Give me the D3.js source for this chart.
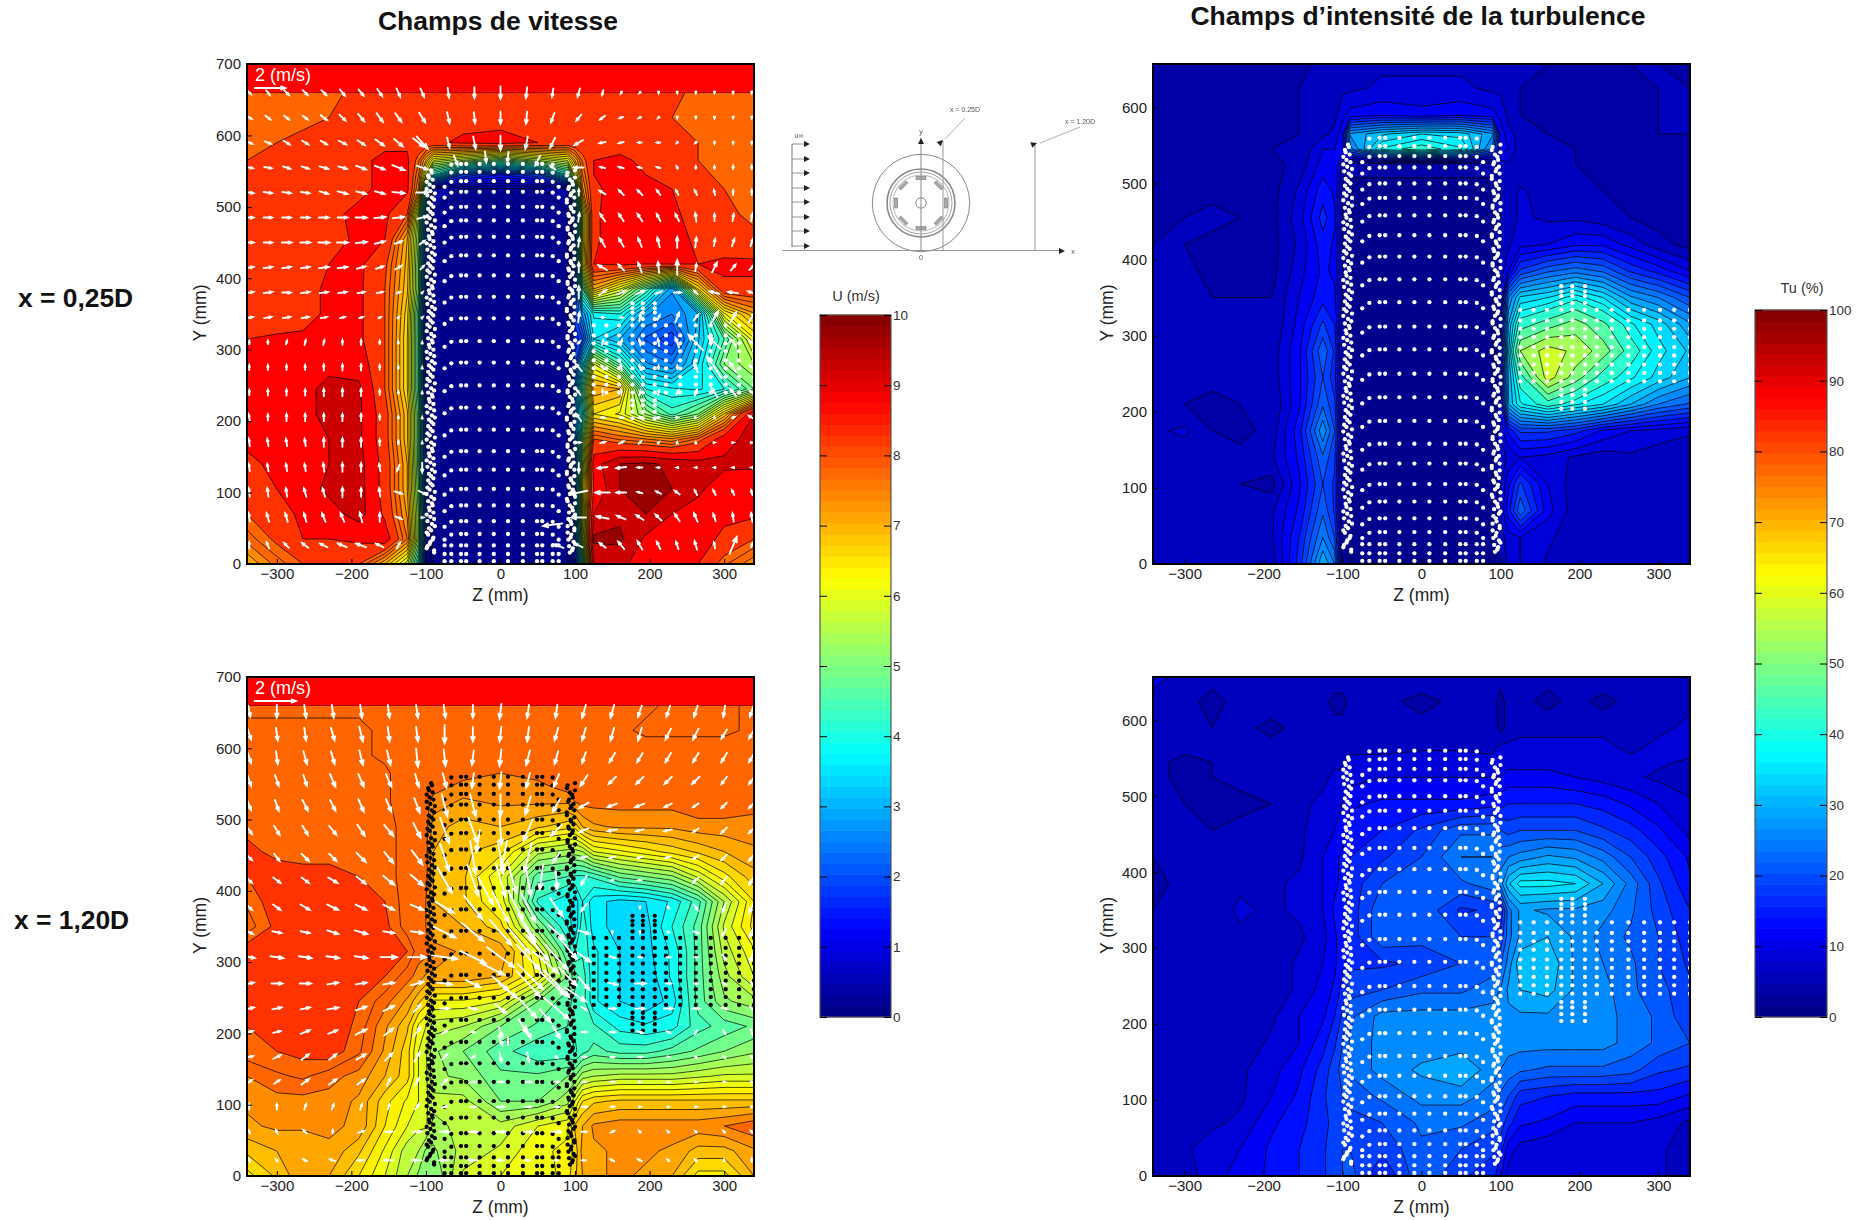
<!DOCTYPE html>
<html><head><meta charset="utf-8">
<script src="https://cdnjs.cloudflare.com/ajax/libs/d3/7.8.5/d3.min.js"></script>
<style>html,body{margin:0;background:#fff}svg{display:block;font-family:"Liberation Sans",Arial,sans-serif}</style>
</head><body><svg id="c" width="1863" height="1220"></svg>
<script>
// ---------- contour measurement grid (mm) ----------
const zGrid=[-340,-300,-265,-230,-190,-155,-125,-110,-100,-90,-50,0,50,90,100,110,125,160,195,230,265,300,340];
const yGrid=[660,625,590,565,545,525,490,455,420,385,350,315,280,245,210,175,140,105,70,35,0];
// U field at x=0.25D, tenths of m/s
const uNear=[
[78,78,78,79,81,82,82,82,81,81,82,82,81,82,82,82,82,82,82,81,79,78,78],
[78,78,78,80,82,83,83,83,83,83,83,83,83,83,83,83,83,83,82,80,78,78,78],
[78,80,82,83,84,84,84,84,84,84,86,87,85,84,84,84,84,83,83,82,80,78,78],
[80,81,82,83,84,86,86,78,70,60,55,48,55,60,70,78,85,86,84,83,80,78,78],
[81,82,83,84,84,86,86,75,60,40,20,15,20,40,60,75,85,87,85,83,81,79,78],
[81,82,83,84,84,86,86,72,40,5,2,2,2,5,40,72,84,87,86,85,82,80,79],
[81,82,82,84,86,86,80,55,25,2,1,1,1,2,25,60,84,88,87,86,83,81,79],
[81,81,82,83,86,85,70,52,22,2,1,1,1,2,25,60,84,88,88,87,84,82,81],
[81,82,83,85,86,81,69,50,20,2,1,1,1,2,25,62,85,86,85,85,85,86,86],
[81,82,83,86,86,80,68,50,18,2,1,1,1,2,20,45,70,60,45,28,65,84,84],
[80,81,83,86,86,80,66,45,15,2,1,1,1,2,20,28,38,40,28,25,30,62,72],
[85,86,86,87,86,80,65,45,15,2,1,1,1,2,15,20,35,30,22,18,32,45,62],
[86,87,87,89,88,80,65,45,15,2,1,1,1,2,20,35,60,45,28,25,35,50,55],
[86,87,89,91,91,80,65,45,15,2,1,1,1,2,25,45,72,70,40,38,37,40,50],
[87,87,89,91,91,82,68,48,18,2,1,1,1,2,25,40,65,62,52,44,50,68,90],
[86,87,89,90,91,82,68,48,18,2,1,1,1,2,25,50,80,77,75,73,78,88,92],
[84,86,89,90,92,83,70,48,18,2,1,1,1,2,25,55,88,95,96,94,92,91,91],
[82,85,88,91,92,83,70,50,18,2,1,1,1,2,25,60,85,95,96,95,91,87,86],
[80,83,86,88,92,84,72,52,20,2,1,1,1,2,25,60,90,94,95,90,88,86,86],
[76,81,85,85,86,88,75,52,18,2,1,1,1,2,22,55,96,96,89,87,87,84,80],
[70,76,80,83,80,70,58,40,15,2,1,1,1,2,15,40,90,92,86,85,85,78,73]];
// U field at x=1.20D, tenths of m/s
const uFar=[
[77,77,77,77,77,77,77,77,77,77,77,77,77,77,77,77,77,77,77,78,78,78,77],
[78,78,78,78,78,77,77,77,77,77,77,77,77,77,77,77,77,77,78,78,78,78,77],
[78,79,79,79,78,77,76,76,76,76,76,76,76,76,76,76,76,76,76,76,76,76,76],
[78,79,79,79,79,78,76,76,76,76,76,75,76,76,76,76,76,76,76,76,76,76,76],
[78,79,79,79,79,78,76,76,76,76,74,74,74,76,76,76,76,76,76,76,76,76,76],
[78,79,79,79,79,78,76,76,76,74,72,73,73,73,75,76,76,76,76,76,77,77,76],
[79,79,79,79,79,79,76,76,76,71,69,70,68,66,66,70,72,73,73,73,74,74,74],
[81,79,79,79,79,79,76,76,76,70,68,66,56,54,54,55,60,62,64,66,68,70,72],
[80,82,81,81,80,79,76,76,76,70,68,60,46,45,42,42,43,48,50,52,58,64,69],
[78,82,83,83,83,80,76,75,75,70,68,62,42,38,36,40,36,34,35,38,44,55,65],
[76,81,83,83,83,81,76,75,75,70,70,66,50,40,35,42,36,34,34,40,46,58,66],
[82,82,83,83,83,83,80,76,76,74,72,72,60,45,40,42,38,35,34,38,46,56,62],
[82,82,83,83,82,80,76,74,72,72,72,70,62,50,46,44,38,35,33,38,46,54,60],
[82,83,83,83,80,76,72,68,66,62,62,60,50,46,44,44,38,35,33,36,46,52,54],
[80,82,83,83,79,73,68,62,60,56,55,50,47,45,43,45,43,39,38,39,44,46,48],
[79,80,81,82,78,72,66,60,58,53,50,46,43,43,42,44,46,44,44,46,48,50,52],
[75,77,78,76,74,70,66,60,58,53,52,48,48,50,50,54,55,56,56,56,57,58,58],
[73,74,74,74,72,66,62,60,58,56,56,50,50,54,60,65,67,68,68,68,68,68,68],
[72,73,73,73,72,65,60,58,58,54,56,56,60,62,68,70,73,74,74,74,74,75,77],
[68,70,70,72,68,62,56,55,52,52,56,58,62,63,66,71,72,73,73,72,69,69,72],
[64,68,72,70,65,60,55,52,50,50,58,60,60,64,67,70,72,73,72,70,64,64,70]];
// Tu field at x=0.25D, %
const tuNear=[
[5,4,4,5,5,4,6,7,7,7,7,7,7,7,7,7,5,5,4,4,5,5,4],
[4,4,4,4,4,5,6,7,7,7,8,8,8,7,7,6,5,4,4,4,4,5,5],
[3,4,5,4,4,5,6,7,9,11,12,11,12,11,9,7,5,4,4,3,4,5,5],
[4,4,4,5,4,5,7,8,12,28,32,35,34,28,12,8,7,5,4,4,4,5,5],
[4,4,4,4,5,5,10,10,12,24,38,42,38,24,12,10,6,5,5,4,5,4,4],
[4,4,4,4,4,6,11,12,6,3,3,3,3,3,6,7,5,5,5,4,4,4,4],
[4,4,4,4,4,8,14,12,5,2,2,2,2,2,5,6,8,6,5,5,4,4,4],
[4,5,6,5,4,9,16,13,5,2,2,2,2,2,5,6,8,7,7,6,5,4,4],
[5,5,4,4,4,8,14,12,5,2,2,2,2,2,5,7,9,10,12,12,9,6,4],
[5,6,4,4,4,9,13,12,5,2,2,2,2,2,6,10,18,22,24,22,17,14,10],
[5,6,5,5,5,10,14,13,5,2,2,2,2,2,8,25,33,35,39,35,28,25,20],
[6,5,6,7,5,11,18,15,6,2,2,2,2,2,12,30,42,46,50,45,38,34,28],
[6,5,5,6,6,12,22,17,6,2,2,2,2,2,14,32,52,58,55,50,42,36,32],
[6,5,6,6,6,12,20,16,6,2,2,2,2,2,13,30,42,58,50,42,38,34,30],
[6,5,4,5,5,12,22,18,6,2,2,2,2,2,12,30,37,42,38,35,30,25,22],
[7,8,5,4,6,14,27,20,7,2,2,2,2,2,8,13,18,18,16,12,10,9,8],
[6,6,6,6,7,13,22,18,6,2,2,2,2,2,6,8,10,9,7,6,7,6,5],
[6,5,5,5,4,12,20,17,6,2,2,2,2,2,7,12,18,10,6,5,6,6,6],
[5,7,5,6,7,13,22,17,6,2,2,2,2,2,8,14,22,11,6,5,6,6,6],
[6,5,6,5,7,15,25,20,7,2,2,2,2,2,6,9,10,8,6,7,7,6,6],
[6,6,6,6,6,16,30,25,8,2,2,2,2,2,5,8,10,7,6,6,6,5,6]];
// Tu field at x=1.20D, %
const tuFar=[
[8,7,6,6,6,6,7,7,7,6,5,7,7,7,6,7,7,6,7,7,7,7,7],
[7,6,4,6,7,7,6,4,4,6,6,4,6,6,4,6,6,4,6,4,6,7,7],
[7,6,5,6,4,6,7,6,6,5,6,6,7,7,4,6,7,7,7,7,7,7,8],
[6,6,6,6,6,6,7,7,7,7,7,7,7,7,8,8,8,8,8,8,7,8,9],
[6,4,5,6,6,6,7,7,7,8,8,9,9,8,9,9,9,9,9,9,8,8,7],
[6,4,5,6,6,7,7,8,8,9,10,10,10,10,10,11,11,11,10,9,8,7,6],
[5,5,4,4,5,7,8,9,10,12,13,13,13,14,14,15,15,15,15,14,12,10,8],
[5,5,5,6,5,7,9,10,11,14,15,18,22,22,20,19,20,20,20,18,16,13,9],
[5,5,6,6,6,7,10,12,13,15,17,20,25,25,24,25,26,28,27,24,20,16,12],
[4,6,6,7,7,8,10,12,13,16,20,21,22,24,26,32,36,36,35,30,24,18,13],
[5,6,6,8,7,8,10,13,14,16,22,22,17,18,15,24,28,27,27,26,23,19,15],
[5,6,6,7,6,7,9,12,14,16,22,21,20,20,18,24,28,30,27,24,22,20,16],
[6,6,5,6,6,8,10,12,14,17,17,18,20,21,22,26,32,32,27,25,23,20,17],
[6,6,5,6,6,8,11,13,16,19,20,22,22,24,25,28,30,31,27,26,23,21,18],
[6,7,6,6,7,10,12,15,18,22,26,26,26,26,26,27,27,27,26,26,24,22,18],
[5,6,6,6,8,10,14,17,20,23,26,26,26,26,26,26,26,26,26,26,24,22,20],
[5,5,6,7,9,12,16,19,21,23,26,28,30,26,25,24,23,22,22,22,21,18,17],
[5,5,6,7,10,13,17,19,20,21,23,26,26,24,22,20,16,15,14,14,14,14,12],
[6,6,7,8,12,14,17,18,18,19,20,23,23,21,19,16,13,12,10,10,10,9,7],
[6,7,9,10,13,15,17,19,20,20,18,22,20,18,16,11,9,8,8,8,8,8,6],
[5,6,9,11,13,15,17,19,20,21,15,22,18,16,13,9,9,10,8,8,8,8,6]];
// contour levels
const uLevels=[0,2.5,5,7.5,10,12.5,15,17.5,20,22.5,25,27.5,30,32.5,35,37.5,40,42.5,45,47.5,50,52.5,55,57.5,60,62.5,65,67.5,70,72.5,75,77.5,80,85,90,95,100];
const tuLevels=[0,2.5,5,7.5,10,12.5,15,17.5,20,22.5,25,27.5,30,32.5,35,37.5,40,44,48,52,56,60,64,68,72,100];

// ---------- velocity arrows at x=0.25D (tenths of m/s) ----------
const arrowZNear=[-337,-312,-287,-262,-237,-212,-187,-162,-137,-105,-70,-35,0,35,70,105,137,162,187,212,237,262,287,312,337];
const arrowYNear=[660,625,590,555,520,485,450,415,380,345,310,275,240,205,170,135,100,65,26];
const wNear=[
[3,3,4,4,4,4,4,4,3,3,1,0,0,-1,-1,-2,-1,-1,-1,0,0,0,0,0,0],
[4,4,4,4,5,5,5,5,5,5,2,1,0,-1,-3,-4,-4,-3,-2,-1,0,0,0,0,0],
[5,5,5,5,5,6,6,7,7,9,2,2,0,-2,-4,-7,-5,-4,-3,-3,-1,-1,0,0,0],
[6,6,6,6,7,7,8,8,10,9,0,0,0,0,-4,-8,-4,-4,-3,-3,-1,0,0,0,0],
[7,7,7,7,7,8,8,8,10,10,0,0,0,0,0,0,-5,-4,-4,-3,-2,-2,-1,0,0],
[7,7,7,7,8,8,9,9,9,8,0,0,0,0,0,1,-4,-4,-4,-3,-3,-1,0,1,1],
[7,7,8,8,9,9,9,8,6,4,0,0,0,0,0,1,-4,-4,-3,-2,0,1,1,2,2],
[7,7,7,7,8,8,7,6,5,3,0,0,0,0,0,0,-7,-5,-3,-1,0,1,4,4,4],
[7,7,7,7,7,7,6,5,3,1,0,0,0,0,0,0,6,7,7,5,6,-3,-8,-8,-6],
[6,6,6,6,5,4,3,2,1,1,0,0,0,0,0,1,2,2,1,2,3,4,6,5,5],
[0,0,1,1,1,0,0,0,0,0,0,0,0,0,0,2,1,1,-1,-1,-3,-12,-10,-5,-4],
[0,0,0,0,0,0,0,0,0,0,0,0,0,0,0,-5,-2,-1,-1,0,0,-3,-12,-5,-4],
[0,0,0,0,0,0,0,0,0,0,0,0,0,0,0,-3,0,0,1,1,2,2,-5,-5,-3],
[-1,0,0,0,0,0,0,0,0,0,0,0,0,0,0,-4,3,3,3,2,1,1,0,2,-5],
[-1,-1,-1,-1,0,0,0,0,0,0,0,0,0,0,0,3,4,4,2,1,0,0,1,1,1],
[-1,-1,-1,-1,-1,0,0,-1,-2,0,0,0,0,0,0,0,-8,-8,-4,-2,-1,-1,-1,-1,-1],
[-1,-1,-1,-2,-2,0,0,-1,6,6,0,0,0,0,0,-14,-12,-8,-4,-4,-4,-2,-2,-2,-1],
[-1,-2,-2,-2,-3,-3,-2,0,5,2,0,0,0,0,0,-12,-10,-7,-6,-5,-4,-3,-2,-1,-1],
[0,-2,-4,-5,-6,-7,-8,-6,3,0,0,0,0,0,0,-6,-5,-5,-4,-3,-2,-2,-1,6,1]];
const vNear=[
[-3,-4,-4,-4,-4,-5,-5,-6,-7,-7,-8,-9,-10,-9,-7,-7,-4,-2,-1,-1,-1,-1,-1,-1,-1],
[-2,-3,-3,-3,-4,-5,-6,-7,-7,-8,-9,-9,-10,-10,-8,-5,-3,-1,-1,-1,-1,-1,-1,-1,-1],
[-2,-2,-3,-3,-3,-3,-4,-5,-6,-10,-8,-10,-12,-10,-8,-4,-1,-1,0,0,-1,-1,-2,-2,-2],
[-1,-1,-2,-2,-2,-2,-3,-3,-4,-3,0,0,0,0,3,0,1,1,1,1,2,2,2,3,3],
[-1,-1,-1,-1,-2,-2,-2,-2,-1,0,0,0,0,0,0,5,3,4,4,4,4,4,4,4,4],
[0,0,0,0,0,0,0,1,1,2,0,0,0,0,0,7,6,6,6,6,6,7,6,6,6],
[0,0,0,0,0,0,1,2,2,3,0,0,0,0,0,7,7,7,7,8,9,8,6,6,6],
[1,1,1,1,1,1,2,2,3,3,0,0,0,0,0,8,4,5,8,9,12,6,8,5,4],
[1,1,0,1,1,1,1,1,1,1,0,0,0,0,0,10,4,3,3,2,0,3,2,1,2],
[1,1,1,1,1,1,1,1,1,1,0,0,0,0,0,8,0,0,6,4,8,5,10,9,8],
[3,3,3,4,4,4,4,3,2,1,0,0,0,0,0,2,4,5,5,6,8,13,10,6,3],
[4,4,4,4,5,5,5,4,2,1,0,0,0,0,0,6,3,5,4,3,3,8,18,8,4],
[4,5,5,5,6,6,6,4,2,1,0,0,0,0,0,4,4,4,4,4,4,5,8,6,3],
[5,5,6,6,6,6,6,4,2,1,0,0,0,0,0,6,0,0,0,0,0,0,1,1,3],
[6,6,6,6,7,7,7,5,3,1,0,0,0,0,0,0,1,2,2,1,1,1,0,0,0],
[6,6,6,6,7,7,7,6,-5,-8,0,0,0,0,0,-8,-1,-1,0,0,0,0,0,0,0],
[7,7,7,7,7,8,7,7,-2,-3,0,0,0,0,0,-3,0,0,1,2,3,4,4,4,4],
[7,7,7,7,7,7,8,7,-2,0,0,0,0,0,0,0,2,3,4,5,6,7,6,7,7],
[5,5,4,4,3,3,3,3,5,0,0,0,0,0,0,3,4,6,7,6,6,7,5,14,3]];
const extraNear=[[70,55,-16,-2],[78,25,-8,3],[-110,590,9,-7],[-60,565,3,-8],[-20,570,1,-9],[10,570,-1,-8],[50,565,-4,-8]];

// ---------- velocity arrows at x=1.20D (tenths of m/s) ----------
const arrowZFar=[-337,-300,-262,-225,-187,-150,-112,-75,-37,0,37,75,112,150,187,225,262,300,337];
const arrowYFar=[652,620,587,555,520,485,447,415,377,342,307,270,235,202,167,132,97,62,22];
const wFar=[
[1,0,1,1,1,1,1,1,0,-1,-1,-1,-2,-2,-2,-2,-2,-1,-2],
[2,1,1,2,2,1,1,0,0,-1,-1,-2,-2,-2,-2,-3,-3,-3,-3],
[2,1,2,2,2,2,1,1,-1,-1,-2,-2,-2,-3,-3,-3,-3,-3,-3],
[2,2,2,3,3,3,2,2,-1,-1,-2,-3,-4,-4,-4,-4,-4,-3,-3],
[2,2,3,3,3,3,3,3,3,0,-3,-4,-5,-5,-5,-4,-3,-3,-3],
[3,3,3,4,4,5,4,5,5,1,-5,-6,-5,-5,-4,-4,-3,-3,-3],
[3,3,4,4,5,5,6,5,3,3,-4,-4,-4,-3,-3,-3,-3,-3,-3],
[3,4,4,5,5,6,7,8,6,5,3,1,-3,-1,-2,0,-3,-3,-3],
[3,4,5,6,6,6,7,10,10,9,8,7,-3,0,0,1,2,-2,-3],
[4,5,5,6,7,6,7,12,12,12,8,9,6,0,0,1,3,-2,-2],
[6,7,7,7,7,9,10,14,14,15,13,12,7,3,2,2,2,2,-2],
[5,6,6,6,6,6,7,8,8,9,13,14,6,5,6,3,2,2,1],
[5,5,5,6,6,6,4,5,5,6,9,14,3,4,5,5,4,3,2],
[4,4,5,5,6,5,4,3,2,2,3,4,3,3,3,2,-1,1,1],
[4,4,4,4,5,4,3,3,2,1,1,1,2,2,2,1,1,1,1],
[3,3,4,4,4,2,2,3,3,3,3,3,2,2,1,1,1,1,1],
[0,0,1,1,1,1,2,3,3,4,3,3,3,2,1,1,1,1,1],
[-1,-1,-2,0,3,4,5,5,5,5,5,5,3,2,-1,-1,-1,-1,-1],
[-1,-1,-2,-3,-4,-5,-5,-5,-5,-4,-3,-2,-2,-2,-2,-1,-1,0,0]];
const vFar=[
[-6,-7,-7,-7,-7,-7,-7,-7,-7,-8,-7,-7,-7,-7,-6,-6,-6,-6,-6],
[-6,-7,-7,-7,-8,-8,-8,-10,-8,-8,-8,-7,-7,-7,-7,-6,-6,-5,-5],
[-6,-7,-7,-7,-8,-8,-10,-9,-8,-9,-8,-7,-6,-5,-5,-5,-5,-5,-5],
[-6,-6,-6,-7,-7,-7,-7,-8,-8,-9,-8,-7,-6,-4,-4,-4,-4,-4,-4],
[-5,-6,-6,-6,-7,-7,-8,-12,-12,-12,-10,-7,-3,-2,-2,-2,-2,-3,-3],
[-4,-5,-5,-5,-6,-6,-8,-14,-14,-16,-12,-6,-2,-1,-1,-1,-2,-3,-3],
[-3,-4,-4,-4,-5,-6,-8,-15,-18,-18,-16,-6,-1,-1,-1,-1,-2,-3,-4],
[-3,-3,-3,-3,-4,-5,-6,-14,-17,-18,-17,-10,-5,0,0,0,-3,-4,-5],
[-3,-3,-3,-3,-3,-3,-3,-6,-13,-17,-16,-10,-4,0,-1,-1,-3,-5,-6],
[-2,-1,-1,-2,-2,-1,-1,-6,-10,-14,-14,-8,-2,-1,-1,0,-1,-4,-5],
[-1,-1,-1,-1,-1,0,0,-2,-7,-11,-14,-14,-5,-1,0,0,0,-3,-5],
[1,0,0,1,1,1,2,-1,-4,-8,-14,-15,-7,-1,0,0,0,-1,-2],
[1,1,1,1,2,3,4,0,-1,-5,-10,-12,-2,0,0,0,0,-1,-2],
[1,1,2,2,3,4,5,2,0,-6,-7,-7,0,0,-1,-1,-2,-2,-3],
[1,2,3,3,3,4,5,3,1,-5,-5,-1,0,0,0,0,-1,-1,-1],
[2,2,3,3,3,4,4,3,0,0,0,0,0,0,0,0,0,0,0],
[3,3,3,3,3,3,3,1,0,0,0,0,0,0,0,0,0,0,0],
[2,2,2,2,1,0,0,0,0,0,0,0,0,1,1,1,1,1,1],
[2,1,1,1,0,0,0,0,0,0,0,0,0,1,1,1,1,1,2]];
const extraFar=[[-20,400,8,-15],[15,420,5,-18],[20,380,8,-16],[35,350,9,-14],[50,320,12,-14],[60,300,14,-12],[40,280,14,-14],[10,260,10,-8],[-10,290,12,-6],[70,270,14,-13],[25,330,12,-14],[5,450,-3,-16],[-30,470,-2,-12],[55,420,-2,-14],[90,320,10,-12],[90,280,10,-10],[100,255,12,-8],[60,225,6,-7],[30,210,5,-8],[0,190,2,-5],[10,190,0,-4]];

// ---------- measurement points ----------
const bodyZ=[-75,-66,-53,-46,-28,-9,10,30,49,56,70,78];
const bodyDrop=[8,1,0,0,0,0,0,0,0,0,1,8];
const bodyY=[560,549,536,521,500,481,458,432,404,374,344,312,282,250,219,188,158,132,105,82,60,42,26,14,4];
const edgeY=[548,541,535,528,522,516,510,503,497,490,484,478,471,465,459,452,446,440,433,427,421,414,408,402,395,389,383,376,370,364,357,351,345,338,332,326,319,313,307,300,294,288,281,275,269,262,256,250,243,237,231,224,218,212,205,199,193,186,180,174,167,161,155,148,142,136,129,123,117,110,104,98,91,85,79,72,66,60,53,47,41,34,28,22,16];
const edgeZ=[92,96,99,90,94,98,89,93,97,91,95,99,88,92,96,90,94,98,88,93,97,91,95,99,89,92,96,90,94,98,88,93,97,91,95,99,89,92,96,90,94,98,88,93,97,91,95,99,89,92,96,90,94,98,88,93,97,91,95,99,89,92,96,90,94,98,88,93,97,91,95,99,89,92,96,90,94,98,88,93,97,91,95,99,89];
const wakeZ=[125,142,159,177,191,207,222,241,262,282,302,320,340];
const wakeY=[334,320,309,298,285,274,262,251,240];
const wakeTallZ=[177,191,207];
const wakeTallY=[365,358,352,343,229,222,213,204];

// ---------- labels ----------
const zTicks=[-300,-200,-100,0,100,200,300];
const yTicksU=[0,100,200,300,400,500,600,700];
const yTicksTu=[0,100,200,300,400,500,600];
const cbTicksU=[0,1,2,3,4,5,6,7,8,9,10];
const cbTicksTu=[0,10,20,30,40,50,60,70,80,90,100];
const titles=[["Champs de vitesse",498,30],["Champs d\u2019intensit\u00e9 de la turbulence",1418,25]];
const rowLabels=[["x = 0,25D",18,307],["x = 1,20D",14,929]];
const profileY=[144,159,173,188,202,217,231,246];

// ---------- drawing ----------
const svg=d3.select("#c");
const cl=v=>Math.max(0,Math.min(1,v));
const jet=t=>d3.rgb(255*cl(1.5-Math.abs(4*t-3)),255*cl(1.5-Math.abs(4*t-2)),255*cl(1.5-Math.abs(4*t-1))).formatHex();
const defs=svg.append("defs");
defs.append("filter").attr("id","soft").append("feGaussianBlur").attr("stdDeviation",.45);
let uid=0;

function panel(o){
  const id="clip"+(uid++);
  const {x0,x1,y0,y1,yMax}=o;
  const zs=d3.scaleLinear().domain([-340,340]).range([x0,x1]);
  const ys=d3.scaleLinear().domain([0,yMax]).range([y1,y0]);
  defs.append("clipPath").attr("id",id).append("rect").attr("x",x0).attr("y",y0).attr("width",x1-x0).attr("height",y1-y0);
  const g=svg.append("g");
  const plot=g.append("g").attr("clip-path",`url(#${id})`);
  const rows=o.field.slice().reverse();
  const yAsc=yGrid.slice().reverse();
  const nx=zGrid.length,ny=yAsc.length;
  const ix=d3.scaleLinear().domain(zGrid.map((_,i)=>i+.5)).range(zGrid).clamp(true);
  const iy=d3.scaleLinear().domain(yAsc.map((_,i)=>i+.5)).range(yAsc.map(v=>v===660&&!o.band?yMax:v)).clamp(true);
  const cont=d3.contours().size([nx,ny]).thresholds(o.levels)(rows.flat());
  const ring=r=>"M"+r.map(p=>[zs(ix(p[0])).toFixed(1),ys(iy(p[1])).toFixed(1)].join(",")).join("L")+"Z";
  cont.forEach((c,i)=>{
    const d=c.coordinates.map(poly=>poly.map(ring).join("")).join("");
    if(!d)return;
    plot.append("path").attr("d",d).attr("fill",o.color(o.levels[i],o.levels[i+1]===undefined?100:o.levels[i+1]))
      .attr("fill-rule","evenodd").attr("stroke","#000").attr("stroke-width",.7).attr("stroke-linejoin","round");
  });
  if(o.band){
    plot.append("rect").attr("x",x0).attr("width",x1-x0).attr("y",ys(yMax)).attr("height",ys(660)-ys(yMax)).attr("fill","#ff0000");
  }
  const pts=[];
  bodyY.forEach(y=>bodyZ.forEach((z,i)=>{ if(!(y>=549&&Math.abs(z)>=75)) pts.push([z,y-(y>30?bodyDrop[i]:0)]); }));
  edgeY.forEach((y,i)=>{
    const n=edgeZ.length;
    pts.push([-edgeZ[i],y]);pts.push([edgeZ[n-1-i]+1,y]);
    pts.push([-edgeZ[(i+7)%n],y+3]);pts.push([edgeZ[(i+11)%n]+1,y+3]);
  });
  wakeZ.forEach(z=>wakeY.forEach(y=>pts.push([z,y])));
  wakeTallZ.forEach(z=>wakeTallY.forEach(y=>pts.push([z,y])));
  plot.append("g").selectAll("circle").data(pts).join("circle")
    .attr("cx",d=>zs(d[0])).attr("cy",d=>ys(d[1])).attr("r",2.15).attr("fill",o.dot);
  if(o.w){
    const list=[];
    o.ay.forEach((y,j)=>o.az.forEach((z,i)=>{
      if(o.w[j][i]||o.v[j][i]) list.push([z,y,o.w[j][i],o.v[j][i]]);
    }));
    o.extra.forEach(e=>list.push(e));
    const arrow=(x,y,dx,dy)=>{
      const p=d3.path(),L=Math.hypot(dx,dy)||1,ux=dx/L,uy=dy/L,h=Math.min(5,Math.max(1.6,L*.3)),w=h*.4;
      const tx=x+dx,ty=y+dy;
      p.moveTo(x,y);p.lineTo(tx,ty);
      p.moveTo(tx-ux*h-uy*w,ty-uy*h+ux*w);p.lineTo(tx,ty);p.lineTo(tx-ux*h+uy*w,ty-uy*h-ux*w);
      return p.toString();
    };
    plot.append("path").attr("fill","none").attr("stroke","#fff").attr("stroke-width",1.9).attr("stroke-linecap","round")
      .attr("d",list.map(a=>{
        const dx=a[2]/10*o.scale,dy=-a[3]/10*o.scale;
        return arrow(zs(a[0])-dx/2,ys(a[1])-dy/2,dx,dy);
      }).join(""));
    plot.append("text").attr("x",x0+8).attr("y",y0+17).attr("fill","#fff").attr("font-size",18).text("2 (m/s)");
    plot.append("path").attr("fill","none").attr("stroke","#fff").attr("stroke-width",1.8)
      .attr("d",arrow(x0+7,y0+24,2*o.legend,0));
  }
  g.append("rect").attr("x",x0).attr("y",y0).attr("width",x1-x0).attr("height",y1-y0).attr("fill","none").attr("stroke","#000").attr("stroke-width",2);
  const ax=g.append("g").attr("transform",`translate(0,${y1})`).call(d3.axisBottom(zs).tickValues(zTicks).tickFormat(d3.format("d")).tickSize(-5).tickSizeOuter(0).tickPadding(4));
  const ay=g.append("g").attr("transform",`translate(${x0},0)`).call(d3.axisLeft(ys).tickValues(o.yTicks).tickFormat(d3.format("d")).tickSize(-5).tickSizeOuter(0).tickPadding(6));
  [ax,ay].forEach(a=>{a.select(".domain").remove();a.selectAll("text").attr("font-size",15).attr("fill","#222").attr("font-family","Liberation Sans");a.selectAll("line").attr("stroke","#000");});
  g.append("text").attr("x",(x0+x1)/2).attr("y",y1+37).attr("text-anchor","middle").attr("font-size",17.5).attr("fill","#222").text("Z (mm)");
  g.append("text").attr("transform",`translate(${o.ylx},${(y0+y1)/2-1}) rotate(-90)`).attr("text-anchor","middle").attr("font-size",17.5).attr("fill","#222").text("Y (mm)");
}

const uColor=(a,b)=> (a>=75&&a<80)?"#ff6600":jet((a+b)/200);
const tuColor=(a,b)=> jet((a+b)/200);

panel({x0:247,x1:754,y0:64,y1:564,yMax:700,field:uNear,levels:uLevels,color:uColor,dot:"#fff",band:true,
  w:wNear,v:vNear,az:arrowZNear,ay:arrowYNear,extra:extraNear,scale:12,legend:15.7,yTicks:yTicksU,ylx:206});
panel({x0:247,x1:754,y0:677,y1:1176,yMax:700,field:uFar,levels:uLevels,color:uColor,dot:"#000",band:true,
  w:wFar,v:vFar,az:arrowZFar,ay:arrowYFar,extra:extraFar,scale:18,legend:21,yTicks:yTicksU,ylx:206});
panel({x0:1153,x1:1690,y0:64,y1:564,yMax:657,field:tuNear,levels:tuLevels,color:tuColor,dot:"#fff",yTicks:yTicksTu,ylx:1113});
panel({x0:1153,x1:1690,y0:677,y1:1176,yMax:657,field:tuFar,levels:tuLevels,color:tuColor,dot:"#fff",yTicks:yTicksTu,ylx:1113});

function colorbar(x0,x1,y0,y1,dom,ticks,title,tx,ty){
  const s=d3.scaleLinear().domain(dom).range([y1,y0]);
  const g=svg.append("g");
  const n=64,h=(y1-y0)/n;
  g.selectAll("rect.s").data(d3.range(n)).join("rect").attr("x",x0).attr("width",x1-x0)
    .attr("y",d=>y1-(d+1)*h-.3).attr("height",h+.6).attr("fill",d=>jet((d+.5)/n));
  g.append("rect").attr("x",x0).attr("y",y0).attr("width",x1-x0).attr("height",y1-y0).attr("fill","none").attr("stroke","#555").attr("stroke-width",1.2);
  const a=g.append("g").attr("transform",`translate(${x1},0)`).call(d3.axisRight(s).tickValues(ticks).tickFormat(d3.format("d")).tickSize(-7).tickSizeOuter(0).tickPadding(2));
  a.select(".domain").remove();a.selectAll("line").attr("stroke","#000");
  a.selectAll("text").attr("font-size",13.5).attr("fill","#333").attr("font-family","Liberation Sans");
  const b=g.append("g").attr("transform",`translate(${x0},0)`).call(d3.axisLeft(s).tickValues(ticks).tickFormat("").tickSize(-7).tickSizeOuter(0));
  b.select(".domain").remove();b.selectAll("line").attr("stroke","#000");
  g.append("text").attr("x",tx).attr("y",ty).attr("text-anchor","middle").attr("font-size",14.5).attr("fill","#333").text(title);
}
colorbar(820,891,315,1017,[0,10],cbTicksU,"U (m/s)",856,301);
colorbar(1755,1827,310,1017,[0,100],cbTicksTu,"Tu (%)",1802,293);

titles.forEach(t=>svg.append("text").attr("x",t[1]).attr("y",t[2]).attr("text-anchor","middle").attr("font-weight","bold").attr("font-size",26.5).attr("fill","#111").text(t[0]));
rowLabels.forEach(t=>svg.append("text").attr("x",t[1]).attr("y",t[2]).attr("font-weight","bold").attr("font-size",26.4).attr("fill","#111").text(t[0]));

// inset schematic
const schRoot=svg.append("g").attr("filter","url(#soft)");
const sch=schRoot.append("g").attr("fill","none").attr("stroke","#888");
const cx=921,cy=203;
[[48.7,1],[34,1.6],[31,.8],[28,.6],[5.2,1]].forEach(r=>sch.append("circle").attr("cx",cx).attr("cy",cy).attr("r",r[0]).attr("stroke-width",r[1]));
[0,45,90,135,180,225,270,315].forEach(a=>{
  const rad=a*Math.PI/180,px=cx+25*Math.cos(rad),py=cy+25*Math.sin(rad);
  sch.append("rect").attr("x",px-5).attr("y",py-1.5).attr("width",10).attr("height",3).attr("fill","#aaa").attr("stroke","#777").attr("stroke-width",.6)
    .attr("transform",`rotate(${a+90} ${px} ${py})`);
});
const line=(a,b,c,d,w,col)=>sch.append("line").attr("x1",a).attr("y1",b).attr("x2",c).attr("y2",d).attr("stroke-width",w||1).attr("stroke",col||"#999");
line(782,250.5,1060,250.5,1.2);
line(921,138,921,251,1,"#888");
line(943,141,943,251,1);
line(1035,144,1035,251,1);
line(792,144,792,247,1,"#777");
line(965,118,945,139,.8);line(1080,127,1040,143,.8);
const head=(x,y,a)=>schRoot.append("path").attr("d","M0,0L-6,-3L-6,3Z").attr("fill","#222").attr("transform",`translate(${x},${y}) rotate(${a})`);
profileY.forEach(y=>{line(792,y,808,y,.8,"#777");head(810,y,0);});
head(921,138,-90);head(943,140,-45);head(1037,143,-20);head(1065,251,0);
const smalls=[["x = 0.25D",965,112],["x = 1.20D",1080,124],["x",1073,254],["y",921,134],["0",921,260],["u\u221e",799,138]];
smalls.forEach(t=>schRoot.append("text").attr("x",t[1]).attr("y",t[2]).attr("text-anchor","middle").attr("font-size",7).attr("fill","#555").text(t[0]));
</script></body></html>
